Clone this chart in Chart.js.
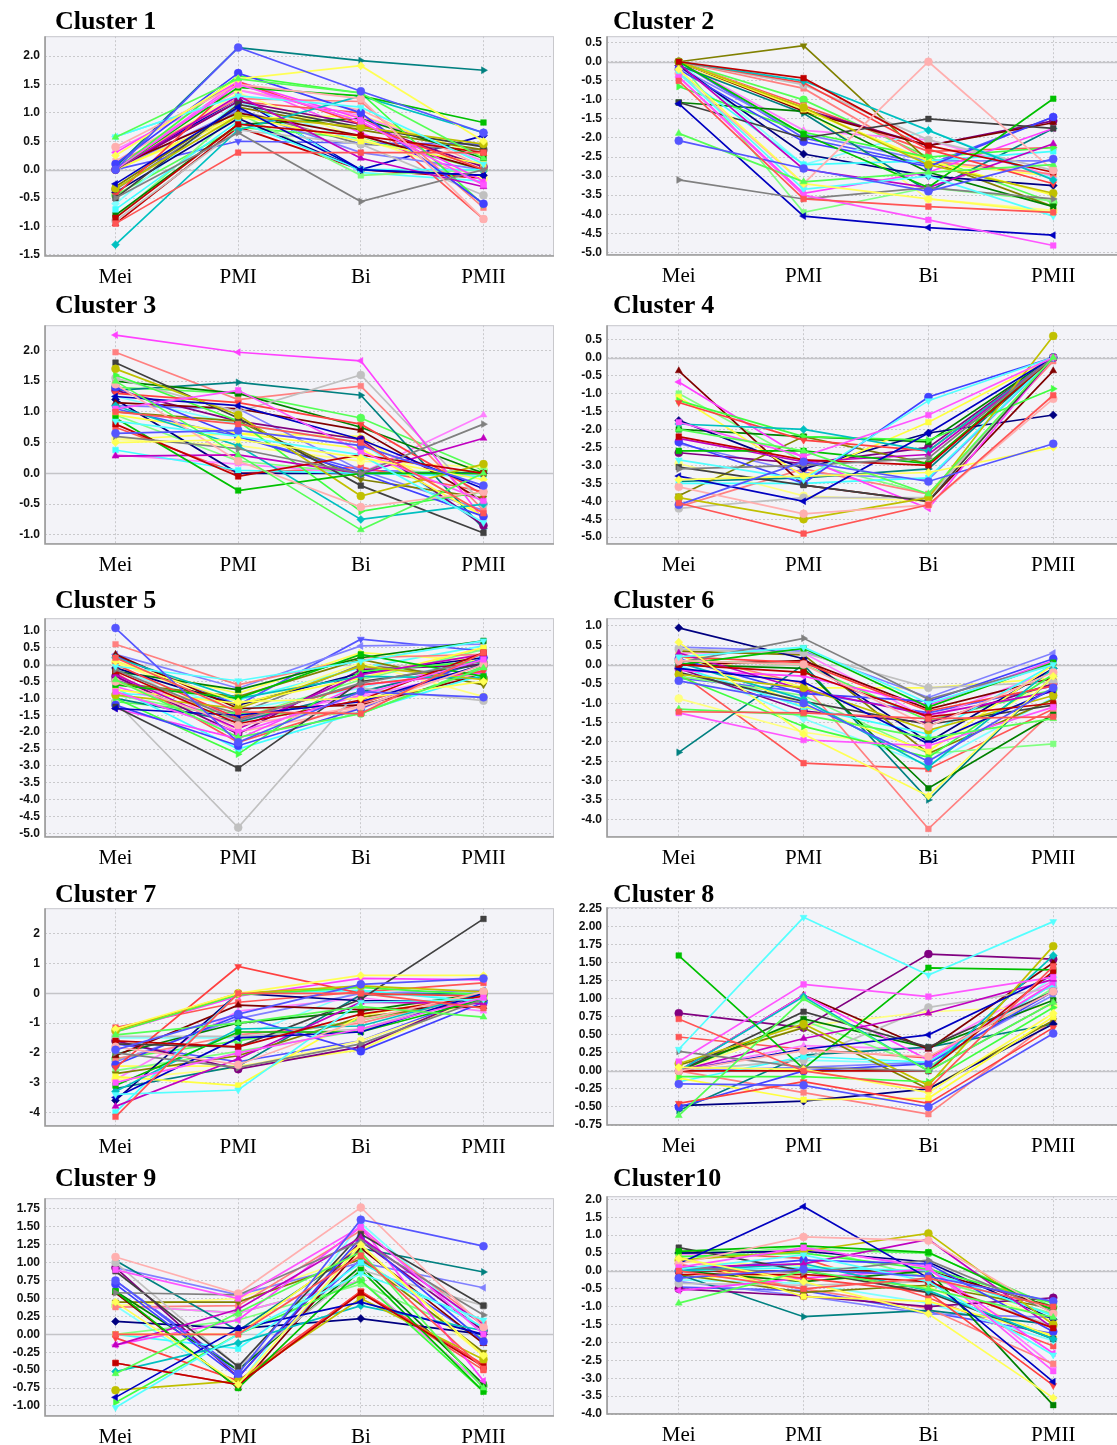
<!DOCTYPE html>
<html><head><meta charset="utf-8">
<script src="https://cdn.jsdelivr.net/npm/chart.js@4.4.1/dist/chart.umd.min.js"></script>
<style>
html,body{margin:0;padding:0;background:#fff;overflow:hidden;width:1117px;height:1445px;}
#wrap{position:relative;width:1117px;height:1445px;overflow:hidden;background:#fff;}
.title{position:absolute;font-family:"Liberation Serif","Times New Roman",serif;font-weight:bold;font-size:26px;line-height:26px;color:#000;white-space:nowrap;}
canvas{position:absolute;}
</style></head><body><div id="wrap"></div>
<script>
// ---------- DATA ----------
const categories = ["Mei", "PMI", "Bi", "PMII"];

const cluster1 = [
 [-0.95,0.3,0.3,0.3],[0.0,2.15,1.38,0.65],[0.57,1.6,1.35,0.2],[0.25,1.6,1.83,0.5],[0.0,1.5,0.85,-0.27],
 [0.58,1.3,1.1,0.1],[0.4,1.5,1.25,-0.87],[-0.5,0.65,-0.56,0.0],[-0.85,0.8,0.6,0.3],[-0.25,1.1,0.0,-0.1],
 [0.0,1.45,1.3,0.83],[-0.33,0.95,0.75,0.45],[0.0,1.3,0.2,-0.3],[-1.32,0.7,1.3,0.65],[-0.5,1.15,0.75,0.4],
 [-0.45,1.55,0.8,0.0],[0.1,1.7,1.0,-0.6],[0.0,1.65,1.35,-0.62],[0.0,0.95,0.5,0.1],[0.3,1.55,0.9,-0.2],
 [-0.7,0.85,0.0,0.0],[-0.9,0.7,0.45,-0.45],[0.05,1.0,0.6,0.0],[-0.4,0.9,0.0,-0.1],[-0.8,0.8,0.9,0.2],
 [-0.3,1.1,0.7,0.35],[0.0,1.2,0.8,0.05],[0.05,2.15,1.92,1.75],[0.1,1.25,1.2,-0.67],[0.0,1.05,0.3,0.0],
 [-0.85,1.0,-0.1,0.0],[0.0,1.35,0.55,-0.15],[0.35,1.4,0.95,0.15],[-0.6,1.2,0.5,0.1],[0.0,1.2,1.0,-0.87],
 [0.0,0.5,0.47,0.45],[-0.45,0.75,0.55,0.0],[0.0,0.9,0.95,0.25],[0.0,1.55,0.65,-0.25],[0.58,1.3,-0.05,-0.2],
 [0.15,1.4,1.05,0.05],[-0.35,1.05,0.45,0.35],[-0.95,0.75,0.0,-0.15],[0.0,1.25,0.0,0.6]
];
const cluster2 = [
 [-0.5,-3.6,-3.8,-3.95],[-2.07,-2.8,-3.4,-2.55],[-1.88,-3.15,-2.9,-2.7],[-0.2,-3.2,-3.6,-3.95],[-0.4,-3.5,-4.15,-4.82],
 [-0.3,-3.35,-3.0,-4.05],[-0.3,-3.2,0.0,-2.85],[-3.1,-3.6,-3.3,-3.6],[0.0,-0.43,-2.2,-2.9],[-1.1,-4.05,-4.35,-4.55],
 [0.0,-1.9,-3.3,-0.97],[0.0,-1.2,-2.7,-3.45],[-0.05,-2.82,-3.3,-2.15],[0.0,-0.5,-1.8,-3.1],[-1.07,-2.0,-1.5,-1.75],
 [0.0,-0.55,-2.3,-3.2],[-0.2,-2.1,-2.75,-1.45],[-0.65,-1.85,-2.5,-2.25],[0.0,-1.25,-2.6,-3.5],[-0.4,-3.45,-2.9,-1.75],
 [-0.3,-2.7,-2.6,-2.35],[0.0,-0.6,-2.05,-2.85],[0.0,-1.3,-2.2,-1.6],[-0.1,-2.42,-3.0,-3.25],[-1.07,-1.3,-2.9,-3.8],
 [0.0,0.42,-2.6,-3.8],[0.0,-1.25,-2.2,-1.55],[-0.1,-1.35,-3.4,-1.75],[0.0,-0.7,-2.6,-2.95],[-0.15,-1.9,-2.6,-2.6],
 [0.0,-3.95,-3.3,-3.65],[0.0,-1.2,-3.6,-3.9],[0.0,-1.8,-2.05,-3.0],[0.0,-2.7,-1.8,-3.05],[0.0,-1.15,-2.35,-2.25],
 [0.0,-2.0,-2.7,-1.45],[0.0,-1.0,-2.5,-3.7],[-0.1,-1.2,-2.65,-3.0]
];
const cluster3 = [
 [1.0,0.8,0.5,-0.65],[0.65,0.7,0.45,-0.2],[1.5,0.3,-0.92,0.0],[0.5,0.55,0.25,-0.1],[1.05,1.35,0.35,-0.45],
 [0.85,0.6,0.3,-0.8],[1.45,0.2,-0.55,-0.3],[0.6,0.4,0.0,0.8],[0.8,-0.05,0.3,0.0],[1.25,1.1,0.55,-0.25],
 [0.9,-0.28,0.0,0.0],[1.7,0.95,-0.37,0.15],[0.28,0.3,0.0,0.57],[1.1,0.45,-0.75,-0.5],[1.8,0.9,-0.2,-0.97],
 [1.3,1.15,0.8,-0.35],[1.4,0.6,0.0,-0.7],[1.6,0.85,-0.62,-0.3],[0.95,0.65,0.4,-0.7],[2.25,1.97,1.83,-0.75],
 [0.38,0.05,0.0,-0.05],[1.55,1.0,1.6,-0.5],[1.15,1.05,0.7,-0.45],[1.2,0.0,0.0,0.0],[1.5,1.3,0.75,0.0],
 [1.0,0.85,-0.1,-0.4],[1.35,0.85,0.55,-0.85],[1.35,1.48,1.27,-0.9],[1.97,1.2,1.42,-0.6],[1.1,1.05,0.05,-0.6],
 [0.95,0.2,0.0,0.05],[0.55,0.45,0.2,0.1],[0.3,0.15,0.0,0.95],[1.25,0.8,0.5,-0.85],[0.75,0.0,0.1,-0.3],
 [1.05,0.6,0.05,0.0],[1.4,1.3,0.9,0.05],[0.55,0.65,0.6,-0.7]
];
const cluster4 = [
 [-4.05,-4.9,-4.1,-1.05],[-4.1,-2.9,-3.45,-2.4],[-2.0,-2.6,-3.8,0.0],[-3.4,-3.3,-3.2,-2.5],[-1.8,-2.75,-1.6,0.0],
 [-2.85,-3.4,-1.2,0.0],[-3.6,-4.35,-4.1,-1.15],[-3.1,-3.0,-2.8,0.0],[-2.2,-2.85,-3.0,0.0],[-3.3,-4.0,-2.1,0.0],
 [-2.6,-2.6,-2.95,0.0],[-3.9,-4.5,-3.9,0.6],[-2.25,-2.9,-2.7,0.0],[-1.85,-2.0,-2.6,0.0],[-3.05,-3.55,-4.0,0.0],
 [-1.25,-2.3,-2.6,0.0],[-2.35,-3.5,-1.1,0.0],[-1.2,-2.2,-2.3,-0.87],[-1.1,-3.3,-1.8,0.0],[-0.68,-2.8,-4.2,0.0],
 [-3.5,-3.5,-3.35,0.0],[-4.2,-3.9,-3.9,0.0],[-0.37,-3.55,-4.0,-0.37],[-1.75,-3.1,-2.1,-1.6],[-2.0,-2.2,-2.35,0.0],
 [-3.85,-2.2,-2.95,0.0],[-2.65,-2.95,-2.5,0.0],[-3.45,-3.35,-3.1,0.0],[-4.15,-3.1,-3.8,-0.1],[-2.4,-3.2,-3.4,0.0],
 [-1.0,-2.9,-3.8,0.0],[-2.95,-3.85,-4.0,0.0]
];
const cluster5 = [
 [0.2,-1.4,-1.45,0.35],[1.08,-2.3,-0.8,-0.97],[-0.45,-2.15,-1.45,-0.1],[0.1,-1.1,-1.0,-0.5],[-0.8,-2.0,-0.9,0.15],
 [-0.05,-0.48,0.1,0.7],[-0.5,-1.8,-1.25,0.0],[-0.15,-1.65,-0.55,0.1],[-0.2,-1.75,-1.05,0.35],[-1.3,-1.5,-1.1,0.0],
 [-0.6,-1.0,0.3,-0.35],[-0.9,-1.3,-0.05,-0.45],[-0.3,-1.9,-0.3,0.3],[0.2,-1.0,-0.35,-0.4],[-1.25,-3.07,-0.5,0.0],
 [0.0,-1.6,-0.6,-0.2],[-1.2,-2.4,-1.3,0.2],[-1.0,-2.65,-0.2,0.1],[-0.75,-1.15,-0.4,0.5],[-1.3,-2.2,-0.6,-0.25],
 [-0.7,-2.5,-1.4,-0.3],[-1.1,-4.82,-0.7,-1.07],[0.3,-1.3,-1.2,-0.3],[-0.1,-1.2,-0.25,0.2],[-0.2,-0.75,0.2,0.7],
 [-0.55,-0.95,0.15,-0.6],[-0.35,-2.05,-0.15,0.0],[-1.0,-1.7,-0.8,0.05],[0.6,-0.6,0.2,0.3],[0.3,-0.7,0.55,0.6],
 [-0.9,-1.6,-0.45,0.45],[0.05,-1.25,0.05,-0.95],[-0.4,-1.55,-0.95,-0.15],[-0.15,-1.35,-0.7,0.25],[-0.25,-2.3,-1.15,0.0],
 [0.25,-1.2,0.75,0.4],[-1.1,-1.45,-1.45,-0.05],[0.0,-0.85,0.35,0.1],[-0.65,-1.65,-0.85,0.25],[-0.85,-1.05,-0.1,0.55],
 [0.05,-2.0,-1.3,-0.2],[-0.45,-1.45,0.0,-0.4]
];
const cluster6 = [
 [-1.22,-1.25,-1.4,-1.35],[-0.42,-1.0,-2.5,-0.6],[-1.15,-1.3,-1.9,-1.4],[0.58,-1.8,-3.4,-0.3],[-1.25,-1.95,-2.1,-1.1],
 [0.2,0.45,-1.0,0.0],[0.1,0.0,-1.6,-0.2],[0.05,0.68,-0.9,0.0],[0.0,-0.2,-1.35,-1.0],[-0.1,-0.45,-2.05,-0.65],
 [0.0,0.42,-1.1,0.05],[-0.25,-0.6,-1.7,-0.8],[0.3,-0.65,-1.3,-0.7],[0.05,-0.9,-2.65,-0.1],[-0.2,-0.95,-1.55,-1.05],
 [0.2,0.05,-1.2,-0.55],[0.15,-0.75,-0.95,0.15],[-0.3,-1.6,-2.4,-0.25],[0.25,-1.05,-2.25,0.0],[-0.15,-0.3,-1.05,0.1],
 [-0.05,-1.1,-1.8,0.0],[0.4,0.3,-0.6,-0.45],[0.0,0.1,-1.15,-0.35],[0.95,0.15,-2.0,-0.1],[0.0,-0.1,-3.2,-1.3],
 [0.35,0.25,-2.3,-0.9],[-0.1,-1.2,-1.5,-0.5],[-2.27,0.0,-3.5,-0.3],[0.3,-0.5,-4.25,-1.2],[0.45,0.35,-0.85,0.3],
 [-0.3,-0.8,-2.3,-2.05],[-0.88,-1.75,-2.2,-0.4],[0.3,0.3,-1.4,-0.15],[0.0,-1.4,-2.6,-0.85],[-0.2,-2.55,-2.7,-1.15],
 [-0.35,-0.7,-1.25,-0.55],[0.1,0.0,-1.45,-0.65],[0.4,-0.6,-0.6,-0.35]
];
const cluster7 = [
 [-4.15,0.0,0.0,-0.5],[-1.9,-0.7,0.3,0.5],[-1.4,-1.0,-0.45,-0.8],[-1.2,0.0,0.6,0.6],[-3.0,-2.0,-1.2,-0.15],
 [-3.4,-3.25,-0.3,-0.2],[-1.8,-2.4,-0.9,0.05],[-2.0,-2.5,-1.7,-0.2],[-1.6,-1.8,-0.7,-0.1],[-3.5,-1.5,-1.3,0.0],
 [-3.1,-1.3,-1.3,-0.2],[-1.25,0.0,0.25,0.05],[-3.8,-2.2,-0.3,-0.35],[-3.3,-1.2,-1.1,0.0],[-1.7,-1.8,-0.2,2.5],
 [-2.5,0.9,0.0,-0.1],[-2.4,-0.75,-1.95,-0.3],[-1.3,-0.05,0.2,-0.05],[-2.8,-3.1,-0.75,0.0],[-1.3,-0.1,0.5,0.45],
 [-4.0,0.0,0.1,-0.3],[-1.45,-1.45,-1.2,0.0],[-2.1,-0.4,-0.55,-0.45],[-3.6,0.0,-0.25,-0.25],[-2.05,-1.0,-0.6,0.0],
 [-2.7,-2.1,-0.8,-0.3],[-1.6,-2.55,-1.8,0.0],[-3.2,-2.45,-0.05,0.0],[-2.2,-1.4,-1.0,0.0],[-2.3,-0.85,0.0,0.1],
 [-2.6,-1.95,-1.25,-0.1],[-2.9,-2.5,-1.6,-0.15],[-2.9,-0.6,-0.15,-0.6],[-1.5,-1.5,0.1,-0.25],[-1.15,-0.3,0.05,0.35],
 [-1.7,-2.3,-1.6,-0.05],[-2.2,-1.6,-0.9,-0.1],[-2.45,-2.45,-1.9,0.0]
];
const cluster8 = [
 [0.72,0.0,-0.25,1.45],[-0.18,-0.2,-0.5,0.52],[-0.62,1.0,0.0,0.95],[0.05,0.02,-0.3,0.8],[0.13,1.2,1.03,1.3],
 [0.3,2.13,1.33,2.07],[0.0,0.28,0.2,1.1],[0.27,0.05,0.0,0.95],[0.0,0.0,0.0,1.38],[0.0,0.3,0.5,1.33],
 [1.6,0.03,1.43,1.4],[0.1,0.65,-0.2,1.73],[0.0,0.45,0.8,1.27],[0.0,1.03,0.0,1.6],[0.0,0.82,0.33,1.1],
 [-0.45,-0.15,-0.45,0.6],[-0.5,0.0,0.1,1.1],[-0.08,-0.08,-0.15,0.88],[-0.1,-0.4,-0.38,0.75],[0.0,1.05,0.15,1.22],
 [-0.15,0.2,0.12,1.2],[0.0,0.15,0.88,1.15],[0.0,1.05,0.3,1.5],[-0.48,-0.42,-0.25,0.65],[0.0,0.72,0.32,0.98],
 [0.08,0.6,-0.25,0.7],[0.8,0.6,1.62,1.55],[-0.55,0.22,0.33,0.65],[0.0,-0.3,-0.6,0.7],[0.0,0.05,0.12,1.05],
 [0.0,0.7,0.05,1.15],[0.0,0.62,0.82,0.9],[0.0,0.35,0.3,1.25],[0.0,0.15,0.1,1.3],[0.47,0.3,0.18,1.2]
];
const cluster9 = [
 [0.0,0.0,1.1,-0.48],[0.75,-0.55,1.6,1.23],[-0.55,0.3,1.15,-0.75],[0.45,-0.7,1.25,-0.3],[0.9,0.5,1.5,0.0],
 [-1.02,0.0,0.85,0.2],[1.08,0.57,1.77,0.1],[0.58,0.55,1.3,0.27],[-0.4,-0.7,0.58,-0.45],[-0.88,0.08,0.45,0.0],
 [0.6,-0.75,0.9,-0.8],[-0.78,-0.65,0.5,-0.35],[-0.15,0.35,1.35,0.13],[-0.52,-0.12,0.4,0.05],[0.88,-0.45,1.4,0.4],
 [-0.05,-0.65,0.6,-0.42],[0.7,-0.6,1.35,-0.1],[-0.95,0.0,0.75,-0.8],[0.0,0.0,1.25,-0.3],[-0.15,0.2,1.5,-0.65],
 [0.0,-0.2,1.0,0.1],[1.0,-0.45,0.9,0.4],[0.58,-0.75,1.2,-0.13],[0.18,0.08,0.22,0.0],[0.6,-0.5,0.95,-0.7],
 [0.45,0.45,1.05,-0.25],[0.93,-0.6,1.3,0.05],[1.03,0.05,1.2,0.87],[0.38,0.4,1.45,0.15],[0.93,0.55,1.0,0.65],
 [0.0,0.2,0.7,-0.05],[0.4,0.5,1.1,-0.3],[0.4,0.3,0.75,-0.72],[0.4,-0.72,1.55,0.05],[-0.4,-0.7,0.6,-0.5],
 [0.75,-0.5,1.05,-0.1],[0.4,0.3,0.75,-0.72]
];
const cluster10 = [
 [0.0,-0.5,-0.2,-1.0],[-0.2,0.05,-0.15,-0.85],[-0.9,0.0,-0.5,-1.3],[0.35,-0.3,-1.2,-3.55],[0.1,0.65,0.1,-2.8],
 [0.05,0.45,-0.3,-2.35],[0.2,0.95,0.85,-1.2],[0.1,-0.05,0.3,-1.15],[-0.1,-0.1,-0.3,-1.6],[0.2,1.8,-0.2,-3.1],
 [0.55,0.7,0.52,-1.1],[0.3,0.55,1.05,-1.5],[0.1,0.2,0.88,-1.6],[0.0,0.2,-0.55,-1.9],[0.65,0.0,-0.6,-1.9],
 [0.15,-0.2,-0.6,-3.2],[0.0,0.3,0.2,-1.7],[0.4,0.5,0.05,-0.9],[0.4,-0.72,-0.85,-1.8],[-0.55,-0.2,0.05,-2.3],
 [0.0,0.1,0.0,-1.25],[-0.35,-0.4,-0.3,-1.55],[0.0,0.0,0.0,-1.0],[0.5,0.55,0.25,-1.35],[0.0,-0.3,0.0,-3.75],
 [-0.1,-0.6,-0.4,-1.05],[-0.5,-0.7,-1.0,-0.75],[-0.1,-1.28,-1.1,-1.5],[0.2,-0.5,-1.05,-2.6],[-0.3,-0.7,-1.2,-1.3],
 [0.3,0.7,-0.2,-1.2],[0.25,0.15,-0.1,-1.4],[0.45,0.6,0.15,-2.65],[-0.25,-0.35,-0.9,-1.95],[0.55,0.35,-0.75,-2.1],
 [-0.45,-0.55,-1.15,-1.75],[0.5,0.6,0.5,-1.0],[-0.2,-0.1,-0.45,-1.85]
];

const cluster1Ticks = ["2.0","1.5","1.0","0.5","0.0","-0.5","-1.0","-1.5"];
const cluster2Ticks = ["0.5","0.0","-0.5","-1.0","-1.5","-2.0","-2.5","-3.0","-3.5","-4.0","-4.5","-5.0"];
const cluster3Ticks = ["2.0","1.5","1.0","0.5","0.0","-0.5","-1.0"];
const cluster4Ticks = ["0.5","0.0","-0.5","-1.0","-1.5","-2.0","-2.5","-3.0","-3.5","-4.0","-4.5","-5.0"];
const cluster5Ticks = ["1.0","0.5","0.0","-0.5","-1.0","-1.5","-2.0","-2.5","-3.0","-3.5","-4.0","-4.5","-5.0"];
const cluster6Ticks = ["1.0","0.5","0.0","-0.5","-1.0","-1.5","-2.0","-2.5","-3.0","-3.5","-4.0"];
const cluster7Ticks = ["2","1","0","-1","-2","-3","-4"];
const cluster8Ticks = ["2.25","2.00","1.75","1.50","1.25","1.00","0.75","0.50","0.25","0.00","-0.25","-0.50","-0.75"];
const cluster9Ticks = ["1.75","1.50","1.25","1.00","0.75","0.50","0.25","0.00","-0.25","-0.50","-0.75","-1.00"];
const cluster10Ticks = ["2.0","1.5","1.0","0.5","0.0","-0.5","-1.0","-1.5","-2.0","-2.5","-3.0","-3.5","-4.0"];

const titles = ["Cluster 1","Cluster 2","Cluster 3","Cluster 4","Cluster 5","Cluster 6","Cluster 7","Cluster 8","Cluster 9","Cluster10"];

// ---------- STYLE / LAYOUT ----------
const palette = ["#FF5555","#5555FF","#55FF55","#FFFF55","#FF55FF","#55FFFF","#FFAFAF","#808080",
 "#C00000","#0000C0","#00C000","#C0C000","#C000C0","#00C0C0","#404040","#FF4040","#4040FF","#40FF40",
 "#FFFF40","#FF40FF","#40FFFF","#C0C0C0","#800000","#000080","#008000","#808000","#800080","#008080",
 "#FF8080","#8080FF","#80FF80","#FFFF80","#FF80FF","#80FFFF"];
const shapes = [["rect",0],["circle",0],["triangle",0],["rectRot",0],["rect",0],["triangle",180],["circle",0],["triangle",90],["rect",0],["triangle",270]];

const panels = [
 {series:cluster1, ticks:cluster1Ticks, min:-1.52, max:2.35, col:0, top:36, h:220, tTop:7.5},
 {series:cluster2, ticks:cluster2Ticks, min:-5.07, max:0.67, col:1, top:36, h:219, tTop:7.5},
 {series:cluster3, ticks:cluster3Ticks, min:-1.15, max:2.41, col:0, top:325, h:219, tTop:292},
 {series:cluster4, ticks:cluster4Ticks, min:-5.19, max:0.9, col:1, top:325, h:219, tTop:292},
 {series:cluster5, ticks:cluster5Ticks, min:-5.1, max:1.37, col:0, top:618, h:219, tTop:586.5},
 {series:cluster6, ticks:cluster6Ticks, min:-4.46, max:1.2, col:1, top:618, h:219, tTop:586.5},
 {series:cluster7, ticks:cluster7Ticks, min:-4.46, max:2.86, col:0, top:908, h:218, tTop:881},
 {series:cluster8, ticks:cluster8Ticks, min:-0.75, max:2.27, col:1, top:907, h:218, tTop:881},
 {series:cluster9, ticks:cluster9Ticks, min:-1.14, max:1.9, col:0, top:1198, h:218, tTop:1165},
 {series:cluster10, ticks:cluster10Ticks, min:-4.0, max:2.09, col:1, top:1196, h:218, tTop:1165}
];

const framePlugin = {
  id: 'frame',
  beforeDraw(chart) {
    const {ctx, chartArea: a} = chart;
    ctx.save();
    ctx.fillStyle = '#f3f3f8';
    ctx.fillRect(a.left, a.top, a.right - a.left, a.bottom - a.top);
    ctx.restore();
  },
  beforeDatasetsDraw(chart) {
    const {ctx, chartArea: a} = chart;
    const y = Math.round(chart.scales.y.getPixelForValue(0)) + 0.5;
    ctx.save();
    ctx.strokeStyle = '#c4c4c8';
    ctx.lineWidth = 1.5;
    ctx.beginPath(); ctx.moveTo(a.left, y); ctx.lineTo(a.right, y); ctx.stroke();
    ctx.restore();
  },
  afterDraw(chart) {
    const {ctx, chartArea: a} = chart;
    ctx.save();
    ctx.strokeStyle = '#c8c8cc';
    ctx.lineWidth = 1;
    ctx.strokeRect(a.left + 0.5, a.top + 0.5, a.right - a.left - 1, a.bottom - a.top - 1);
    ctx.strokeStyle = '#9a9a9a';
    ctx.lineWidth = 1.6;
    ctx.beginPath();
    ctx.moveTo(a.left, a.top); ctx.lineTo(a.left, a.bottom); ctx.lineTo(a.right, a.bottom);
    ctx.stroke();
    ctx.restore();
  }
};

const wrap = document.getElementById('wrap');
const PADT = 12, XH = 40;

panels.forEach((p, k) => {
  const colL = p.col ? 560 : 0;
  const axisW = p.col ? 47 : 45;
  const W = p.col ? 565 : 554;
  const H = p.h + PADT + XH;
  const cv = document.createElement('canvas');
  cv.width = W; cv.height = H;
  cv.style.left = colL + 'px'; cv.style.top = (p.top - PADT) + 'px';
  cv.style.width = W + 'px'; cv.style.height = H + 'px';
  wrap.appendChild(cv);

  const t = document.createElement('div');
  t.className = 'title';
  t.textContent = titles[k];
  t.style.left = (p.col ? 613 : 55) + 'px';
  t.style.top = p.tTop + 'px';
  wrap.appendChild(t);

  const tickVals = p.ticks.map(Number);
  const datasets = p.series.map((s, i) => {
    const c = palette[i % palette.length];
    const sh = shapes[i % shapes.length];
    return {
      data: s.map((v, j) => ({x: j, y: v})),
      borderColor: c, backgroundColor: c,
      pointBackgroundColor: c, pointBorderColor: c,
      borderWidth: 1.7, pointRadius: 4, pointBorderWidth: 0.5,
      pointStyle: sh[0], pointRotation: sh[1],
      tension: 0, fill: false
    };
  });

  new Chart(cv, {
    type: 'line',
    data: {datasets},
    options: {
      responsive: false, animation: false, devicePixelRatio: 1, events: [],
      layout: {padding: {top: PADT, left: 0, right: 0, bottom: 0}, autoPadding: false},
      plugins: {legend: {display: false}, tooltip: {enabled: false}, title: {display: false}},
      scales: {
        x: {
          type: 'linear', min: -0.575, max: 3.575,
          afterBuildTicks: sc => { sc.ticks = categories.map((c, i) => ({value: i})); },
          afterFit: sc => { sc.height = XH; },
          ticks: {
            callback: v => categories[Math.round(v)],
            font: {family: '"Liberation Serif", "Times New Roman", serif', size: 21},
            color: '#000', padding: 9, maxRotation: 0, autoSkip: false
          },
          grid: {color: '#c9c9cc', lineWidth: 1, drawTicks: false},
          border: {display: false, dash: [2, 2]}
        },
        y: {
          type: 'linear', min: p.min, max: p.max,
          afterBuildTicks: sc => { sc.ticks = tickVals.map(v => ({value: v})); },
          afterFit: sc => { sc.width = axisW; },
          ticks: {
            callback: v => { const i = tickVals.findIndex(t => Math.abs(t - v) < 1e-9); return i >= 0 ? p.ticks[i] : ''; },
            font: {family: '"Liberation Sans", Arial, sans-serif', size: 12, weight: 'bold'},
            color: '#111', padding: 5, autoSkip: false
          },
          grid: {color: '#c9c9cc', lineWidth: 1, drawTicks: false},
          border: {display: false, dash: [2, 2]}
        }
      }
    },
    plugins: [framePlugin]
  });
});
</script>
</body></html>
